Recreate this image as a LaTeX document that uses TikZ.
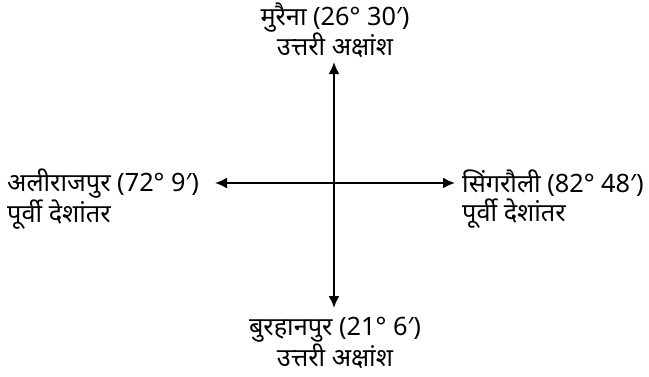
\documentclass[tikz,border=0pt]{standalone}
\usepackage{fontspec}
\setmainfont{Noto Sans}[Script=Devanagari]
\usetikzlibrary{arrows.meta}
\begin{document}
\begin{tikzpicture}[x=1pt,y=1pt,
  lbl/.style={inner sep=0pt, font=\fontsize{25.3}{29}\selectfont},
  axis/.style={line width=2pt, {Latex[length=12pt,width=11pt]}-{Latex[length=12pt,width=11pt]}}]
\useasboundingbox (0,0) rectangle (649,376);
\coordinate (N) at (334,314);
\coordinate (S) at (334,68);
\coordinate (W) at (215,193);
\coordinate (E) at (455,193);
\node[lbl, align=center] (top) at (335,346) {मुरैना (26° 30′)\\उत्तरी अक्षांश};
\node[lbl, align=center] (bot) at (335,33) {बुरहानपुर (21° 6′)\\उत्तरी अक्षांश};
\node[lbl, align=left, anchor=west] (lft) at (7,177) {अलीराजपुर (72° 9′)\\पूर्वी देशांतर};
\node[lbl, align=left, anchor=west] (rgt) at (462,177) {सिंगरौली (82° 48′)\\पूर्वी देशांतर};
\draw[axis] (N) -- (S);
\draw[axis] (W) -- (E);
\end{tikzpicture}
\end{document}
